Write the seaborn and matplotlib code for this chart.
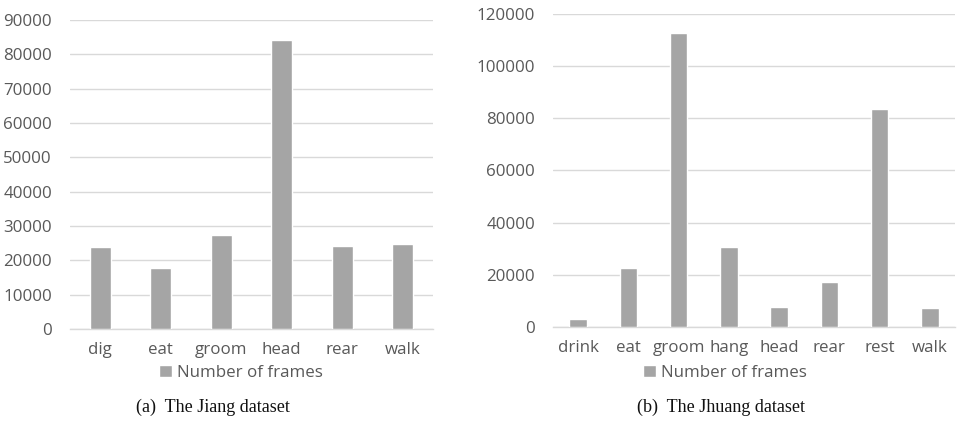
import matplotlib
matplotlib.use("Agg")
import matplotlib.pyplot as plt
import seaborn as sns
import pandas as pd

jiang_cats = ["dig", "eat", "groom", "head", "rear", "walk"]
jiang_vals = [24000, 17800, 27300, 84100, 24100, 24800]
jiang_ticks = [0, 10000, 20000, 30000, 40000, 50000, 60000, 70000, 80000, 90000]

jhuang_cats = ["drink", "eat", "groom", "hang", "head", "rear", "rest", "walk"]
jhuang_vals = [3200, 22700, 112700, 30700, 7500, 17200, 83500, 7300]
jhuang_ticks = [0, 20000, 40000, 60000, 80000, 100000, 120000]

series_name = "Number of frames"
captions = ["(a)  The Jiang dataset", "(b)  The Jhuang dataset"]

sns.set_theme(style="white")
plt.rcParams['font.family'] = ['Open Sans', 'DejaVu Sans']

BAR = "#a5a5a5"
GRID = "#d9d9d9"
TXT = "#595959"

fig = plt.figure(figsize=(9.59, 4.21), dpi=100)
W, H = 959, 421

def px_axes(x0, x1, ytop, ybot):
    return fig.add_axes([x0 / W, 1 - ybot / H, (x1 - x0) / W, (ybot - ytop) / H])

def draw(ax, cats, vals, ticks, legend_center_x):
    df = pd.DataFrame({"cat": cats, "val": vals})
    sns.barplot(data=df, x="cat", y="val", color=BAR, saturation=1, width=0.35,
                ax=ax, label=series_name, zorder=3)
    ax.set_ylim(ticks[0], ticks[-1])
    ax.set_xlim(-0.5, len(cats) - 0.5)
    ax.set_yticks(ticks)
    ax.set_yticklabels([str(t) for t in ticks])
    ax.yaxis.grid(True, color=GRID, linewidth=1.0, zorder=0)
    ax.set_axisbelow(True)
    for s in ["left", "right", "top"]:
        ax.spines[s].set_visible(False)
    ax.spines["bottom"].set_color(GRID)
    ax.spines["bottom"].set_linewidth(1.0)
    ax.set_xlabel("")
    ax.set_ylabel("")
    ax.tick_params(axis="both", length=0, colors=TXT, labelsize=12.2)
    ax.tick_params(axis="y", pad=13)
    ax.tick_params(axis="x", pad=9)
    leg = ax.legend(loc="center", bbox_to_anchor=(legend_center_x / W, 1 - 373 / H),
                    bbox_transform=fig.transFigure, frameon=False, fontsize=12.2,
                    handlelength=0.75, handleheight=0.75, handletextpad=0.3,
                    borderpad=0, borderaxespad=0)
    for t in leg.get_texts():
        t.set_color(TXT)

ax1 = px_axes(70, 433, 20, 329)
draw(ax1, jiang_cats, jiang_vals, jiang_ticks, 241)

ax2 = px_axes(553, 955, 14, 327)
draw(ax2, jhuang_cats, jhuang_vals, jhuang_ticks, 725)

fig.text(213 / W, 1 - 407 / H, captions[0], ha="center", va="center",
         fontsize=13, family="Liberation Serif", color="#111111")
fig.text(721 / W, 1 - 407 / H, captions[1], ha="center", va="center",
         fontsize=13, family="Liberation Serif", color="#111111")

fig.savefig("out.png", dpi=100, facecolor="white")
